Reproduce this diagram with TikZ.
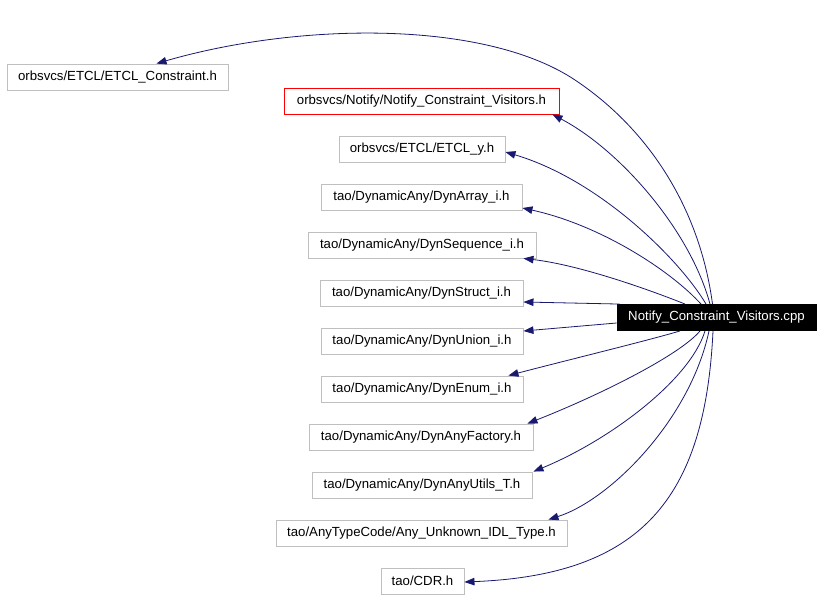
\documentclass[tikz,border=0pt]{standalone}
\usepackage{fontspec}
\setmainfont{Liberation Sans}
\usetikzlibrary{arrows.meta}
\definecolor{edgeblue}{HTML}{191970}
\definecolor{boxgray}{HTML}{BFBFBF}
\begin{document}
\begin{tikzpicture}[x=1bp,y=-1bp,
  box/.style={draw=boxgray, line width=0.9bp, minimum height=26bp, inner sep=0pt, fill=white,
    font=\fontsize{13.2bp}{16bp}\selectfont},
  redbox/.style={box, draw=red},
  mainbox/.style={box, draw=black, fill=black, text=white},
  edge/.style={draw=edgeblue, line width=0.8bp, -{Triangle[length=10bp,width=7.5bp]}}]
\fill[white] (0,0) rectangle (824,599);
\useasboundingbox (0,0) rectangle (824,599);

\node[mainbox, minimum width=199bp] (main) at (716.5,317.5) {Notify\_Constraint\_Visitors.cpp};

\node[box, minimum width=221bp] (A) at (117.5,77) {orbsvcs/ETCL/ETCL\_Constraint.h};
\node[redbox, minimum width=275bp] (B) at (421.5,101) {orbsvcs/Notify/Notify\_Constraint\_Visitors.h};
\node[box, minimum width=166bp] (C) at (422,149) {orbsvcs/ETCL/ETCL\_y.h};
\node[box, minimum width=201bp] (D) at (421.5,197) {tao/DynamicAny/DynArray\_i.h};
\node[box, minimum width=228bp] (E) at (422,245) {tao/DynamicAny/DynSequence\_i.h};
\node[box, minimum width=203bp] (F) at (421.5,293) {tao/DynamicAny/DynStruct\_i.h};
\node[box, minimum width=202bp] (G) at (422,341) {tao/DynamicAny/DynUnion\_i.h};
\node[box, minimum width=202bp] (H) at (422,389) {tao/DynamicAny/DynEnum\_i.h};
\node[box, minimum width=224bp] (I) at (421,437) {tao/DynamicAny/DynAnyFactory.h};
\node[box, minimum width=220bp] (J) at (422,485) {tao/DynamicAny/DynAnyUtils\_T.h};
\node[box, minimum width=291bp] (K) at (421.5,533) {tao/AnyTypeCode/Any\_Unknown\_IDL\_Type.h};
\node[box, minimum width=83bp] (L) at (422.5,581) {tao/CDR.h};

\draw[edge] ([xshift=-4bp]main.north) .. controls (700,210) and (650,130) .. (575,80)
  .. controls (485,20) and (300,22) .. ([xshift=39bp]A.north);
\draw[edge] ([xshift=-6.5bp]main.north) .. controls (690,230) and (620,150) .. ([xshift=-7bp]B.south east);
\draw[edge] ([xshift=-10.5bp]main.north) .. controls (680,260) and (600,180) .. ([yshift=-3bp]C.east);
\draw[edge] ([xshift=-15.5bp]main.north) .. controls (670,270) and (600,225) .. ([yshift=-11bp]D.east);
\draw[edge] ([xshift=-31.5bp]main.north) .. controls (650,290) and (580,265) .. ([xshift=-13bp]E.south east);
\draw[edge] ([xshift=3bp]main.north west) -- ([yshift=-9bp]F.east);
\draw[edge] ([yshift=-5.5bp]main.west) -- ([yshift=10bp]G.east);
\draw[edge] ([xshift=-36.5bp]main.south) .. controls (650,340) and (560,362) .. ([xshift=-15bp]H.north east);
\draw[edge] ([xshift=-16.5bp]main.south) .. controls (680,355) and (600,395) .. ([xshift=-6bp]I.north east);
\draw[edge] ([xshift=-11.5bp]main.south) .. controls (690,380) and (610,440) .. ([xshift=1bp]J.north east);
\draw[edge] ([xshift=-7.5bp]main.south) .. controls (690,420) and (610,500) .. ([xshift=-19bp]K.north east);
\draw[edge] ([xshift=-3.5bp]main.south) .. controls (705,500) and (640,575) .. ([yshift=-1bp]L.east);
\end{tikzpicture}
\end{document}
